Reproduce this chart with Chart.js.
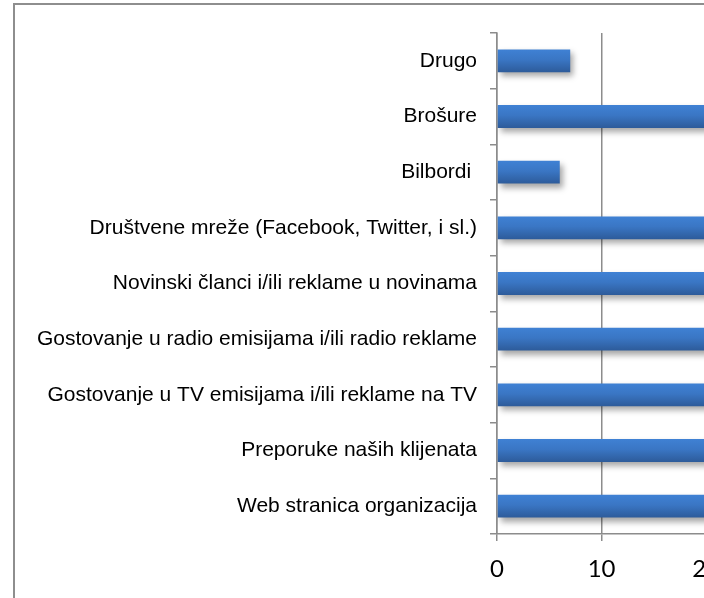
<!DOCTYPE html>
<html>
<head>
<meta charset="utf-8">
<script src="https://cdn.jsdelivr.net/npm/chart.js@4"></script>
<style>
  html, body { margin: 0; padding: 0; background: #fff; overflow: hidden; }
  #frame { position: absolute; left: 13px; top: 3px; width: 1200px; height: 800px; border: 2px solid #8e8e8e; }
  #wrap { position: absolute; left: 0; top: 0; width: 1060px; height: 598px; }
</style>
</head>
<body>
<div id="frame"></div>
<div id="wrap"><canvas id="myChart"></canvas></div>
<script>
/* data */
const categories = [
    'Drugo',
    'Brošure',
    'Bilbordi ',
    'Društvene mreže (Facebook, Twitter, i sl.)',
    'Novinski članci i/ili reklame u novinama',
    'Gostovanje u radio emisijama i/ili radio reklame',
    'Gostovanje u TV emisijama i/ili reklame na TV',
    'Preporuke naših klijenata',
    'Web stranica organizacija'
];
const values = [7, 24, 6, 33, 27, 29, 31, 42, 45];
const xTicks = [0, 10, 20, 30, 40, 50];

/* bar gradient (lighter on top) + soft shadow */
const barLook = {
    id: 'barLook',
    beforeDatasetsDraw(chart) {
        const c = chart.ctx;
        chart.getDatasetMeta(0).data.forEach(bar => {
            const g = c.createLinearGradient(0, bar.y - bar.height / 2, 0, bar.y + bar.height / 2);
            g.addColorStop(0, '#3f81d4');
            g.addColorStop(0.45, '#3a76c4');
            g.addColorStop(1, '#2d5b9a');
            bar.options = Object.assign({}, bar.options, { backgroundColor: g });
        });
        c.save();
        c.shadowColor = 'rgba(0,0,0,0.35)';
        c.shadowBlur = 6;
        c.shadowOffsetX = 3;
        c.shadowOffsetY = 4;
    },
    afterDatasetsDraw(chart) {
        chart.ctx.restore();
    }
};

new Chart(document.getElementById('myChart'), {
    type: 'bar',
    data: {
        labels: categories,
        datasets: [{
            data: values,
            backgroundColor: '#3a76c4',
            borderWidth: 0,
            categoryPercentage: 1,
            barPercentage: 0.41
        }]
    },
    options: {
        indexAxis: 'y',
        responsive: true,
        maintainAspectRatio: false,
        animation: false,
        layout: { padding: { top: 33, right: 40, left: 0, bottom: 0 } },
        plugins: {
            legend: { display: false },
            tooltip: { enabled: false }
        },
        scales: {
            x: {
                min: 0,
                max: 50,
                afterBuildTicks: s => { s.ticks = xTicks.map(v => ({ value: v })); },
                afterFit: s => { s.height = 64; },
                grid: { color: '#8c8c8c', lineWidth: 1.5, tickLength: 7 },
                border: { color: '#8c8c8c', width: 1.5 },
                ticks: { color: '#000', padding: 14, maxRotation: 0, font: { family: 'Lato', size: 24 } }
            },
            y: {
                afterFit: s => { s.width = 497; },
                grid: { drawOnChartArea: false, color: '#8c8c8c', lineWidth: 1.5, tickLength: 7, offset: true },
                border: { color: '#8c8c8c', width: 1.5 },
                ticks: { color: '#000', padding: 13, font: { family: 'Liberation Sans', size: 21 } }
            }
        }
    },
    plugins: [barLook]
});
</script>
</body>
</html>
